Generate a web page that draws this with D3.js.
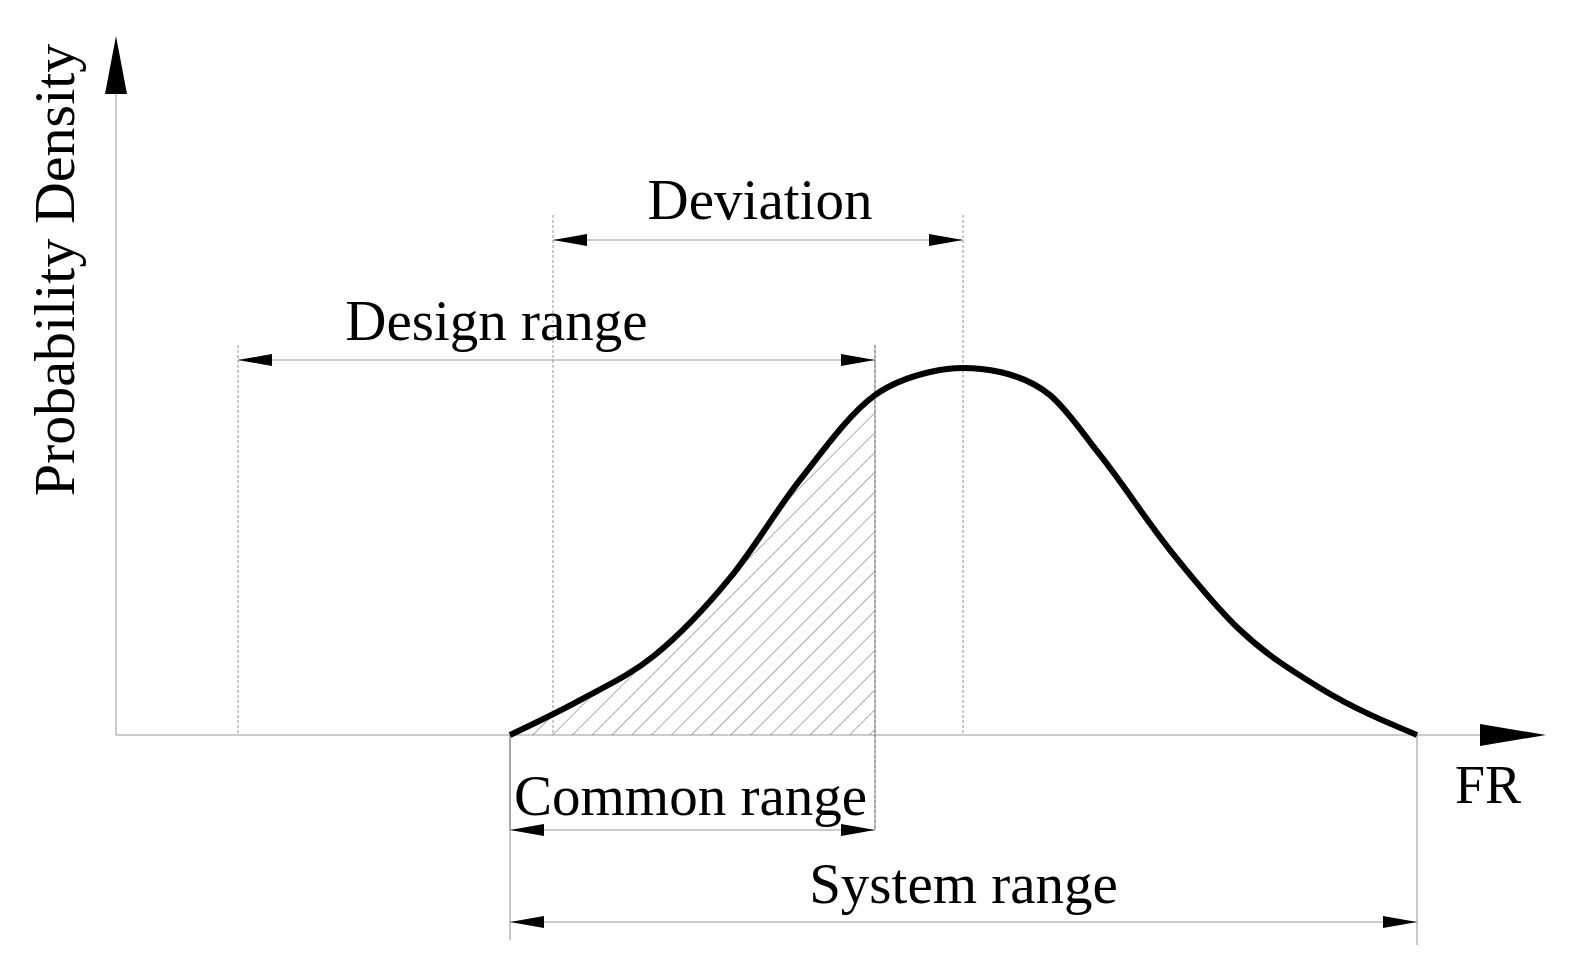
<!DOCTYPE html>
<html><head><meta charset="utf-8">
<script src="https://cdn.jsdelivr.net/npm/d3@7"></script>
<style>body{margin:0;background:#fff}svg{display:block}text{font-family:"Liberation Serif","DejaVu Serif",serif;fill:#000}</style>
</head><body>
<script>
const width = 1589, height = 979;

// curve of probability density (FR units, normalised density)
const curveFR = [394, 464, 539, 614, 684, 759, 814, 847, 884, 934, 984, 1054, 1124, 1204, 1301];
const curveDensity = [0, 0.095, 0.218, 0.428, 0.695, 0.926, 0.989, 1, 0.989, 0.926, 0.763, 0.504, 0.286, 0.128, 0];

// ranges: label, from, to, level (px y)
const rangeLabels = ["Deviation", "Design range", "Common range", "System range"];
const rangeFrom = [437, 122, 394, 394];
const rangeTo = [847, 759, 759, 1301];
const rangeY = [240, 360, 830, 922];
const labelY = [219, 340, 815, 903];
const labelDx = [2, -60, -2, 0];
const guideTop = [[215, 215], [345, 345], [735, 345], [735, 735]];
const guideBottom = [[735, 735], [735, 830], [830, 830], [940, 945]];

const x = d3.scaleLinear().domain([0, 1430]).range([116, 1546]);
const y = d3.scaleLinear().domain([0, 1]).range([735, 368]);

const svg = d3.select("body").append("svg").attr("width", width).attr("height", height);

const defs = svg.append("defs");
const pat = defs.append("pattern").attr("id", "hatch").attr("patternUnits", "userSpaceOnUse")
  .attr("width", 14).attr("height", 14).attr("patternTransform", "rotate(45)");
pat.append("line").attr("x1", 0).attr("y1", 0).attr("x2", 0).attr("y2", 14)
  .attr("stroke", "#444").attr("stroke-width", 0.9);

function arrow(px, py, dir) {
  const L = 34, W = 6;
  let pts;
  if (dir === "l") pts = [[px, py], [px + L, py - W], [px + L, py + W]];
  else if (dir === "r") pts = [[px, py], [px - L, py - W], [px - L, py + W]];
  else pts = [[px, py], [px - 11, py + 58], [px + 11, py + 58]];
  svg.append("polygon").attr("points", pts.map(p => p.join(",")).join(" ")).attr("fill", "#000");
}

// axes
svg.append("line").attr("x1", x(0)).attr("x2", x(0)).attr("y1", y(0)).attr("y2", 60).attr("stroke", "#999").attr("stroke-width", 1);
svg.append("line").attr("x1", x(0)).attr("x2", 1500).attr("y1", y(0)).attr("y2", y(0)).attr("stroke", "#999").attr("stroke-width", 1);
arrow(x(0), 36, "u");
svg.append("polygon").attr("points", `1546,735 1480,724 1480,746`).attr("fill", "#000");

// hatch area
const pts = curveFR.map((f, i) => [f, curveDensity[i]]);
const area = d3.area().x(d => x(d[0])).y0(y(0)).y1(d => y(d[1])).curve(d3.curveMonotoneX);
svg.append("clipPath").attr("id", "clipc").append("rect")
  .attr("x", x(394)).attr("y", 0).attr("width", x(759) - x(394)).attr("height", height);
svg.append("path").datum(pts).attr("d", area).attr("fill", "url(#hatch)").attr("clip-path", "url(#clipc)");

// guides and dimension lines
rangeLabels.forEach((lab, i) => {
  [rangeFrom[i], rangeTo[i]].forEach((f, k) => {
    svg.append("line").attr("x1", x(f)).attr("x2", x(f))
      .attr("y1", guideTop[i][k]).attr("y2", guideBottom[i][k])
      .attr("stroke", "#777").attr("stroke-width", 0.8)
      .attr("stroke-dasharray", i < 2 ? "3,2" : null);
  });
  svg.append("line").attr("x1", x(rangeFrom[i])).attr("x2", x(rangeTo[i]))
    .attr("y1", rangeY[i]).attr("y2", rangeY[i]).attr("stroke", "#999").attr("stroke-width", 1);
  arrow(x(rangeFrom[i]), rangeY[i], "l");
  arrow(x(rangeTo[i]), rangeY[i], "r");
  svg.append("text").attr("x", (x(rangeFrom[i]) + x(rangeTo[i])) / 2 + labelDx[i])
    .attr("y", labelY[i]).attr("text-anchor", "middle").attr("font-size", 57).text(lab);
});

// curve
const line = d3.line().x(d => x(d[0])).y(d => y(d[1])).curve(d3.curveMonotoneX);
svg.append("path").datum(pts).attr("d", line).attr("fill", "none").attr("stroke", "#000").attr("stroke-width", 6);

// axis labels
svg.append("text").attr("x", 1488).attr("y", 803).attr("text-anchor", "middle").attr("font-size", 54).text("FR");
svg.append("text").attr("transform", "translate(74,270) rotate(-90)").attr("text-anchor", "middle")
  .attr("font-size", 58).text("Probability Density");
</script>
</body></html>
